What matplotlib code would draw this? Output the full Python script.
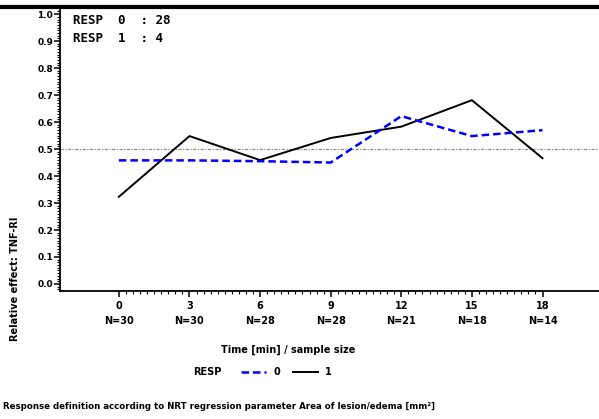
import numpy as np
import matplotlib
matplotlib.use("Agg")
import matplotlib.pyplot as plt
from matplotlib.ticker import FixedLocator, MultipleLocator
from matplotlib.lines import Line2D

# Time points (minutes) and sample sizes
times = [0, 3, 6, 9, 12, 15, 18]
sample_sizes = ["N=30", "N=30", "N=28", "N=28", "N=21", "N=18", "N=14"]

# Relative effect per response group
resp0 = [0.458, 0.458, 0.455, 0.450, 0.622, 0.548, 0.570]
resp1 = [0.323, 0.548, 0.459, 0.541, 0.583, 0.681, 0.466]

group_counts = {"0": 28, "1": 4}
reference_level = 0.5

plt.rcParams["font.family"] = ["DejaVu Sans"]
plt.rcParams["font.weight"] = "bold"

fig = plt.figure(figsize=(5.99, 4.19), dpi=100)
ax = fig.add_axes([0.1002, 0.3055, 0.8998, 0.6705])

ax.axhline(reference_level, color="#888888", lw=0.9, ls=(0, (2.5, 1.2, 1, 1.2)), zorder=1)
l0, = ax.plot(times, resp0, color="#0000ff", lw=1.8, ls=(0, (3, 1.6)), zorder=3)
l1, = ax.plot(times, resp1, color="black", lw=1.4, zorder=2)

ax.set_xlim(-2.5, 20.4)
ax.set_ylim(-0.026, 1.015)

for side in ("top", "right"):
    ax.spines[side].set_visible(False)
for side in ("left", "bottom"):
    ax.spines[side].set_linewidth(1.3)

ax.set_yticks(np.round(np.arange(0, 1.01, 0.1), 1))
ax.set_yticklabels([f"{v:.1f}" for v in np.arange(0, 1.01, 0.1)], fontsize=6.5, fontweight="bold")
ax.yaxis.set_minor_locator(MultipleLocator(0.01))
ax.tick_params(axis="y", which="major", length=4, width=1.1, pad=1)
ax.tick_params(axis="y", which="minor", length=2, width=0.8)

ax.set_xticks(times)
ax.set_xticklabels([f"{t}\n{n}" for t, n in zip(times, sample_sizes)],
                   fontsize=7, fontweight="bold", linespacing=1.65)
ax.xaxis.set_minor_locator(FixedLocator(np.arange(0, 18.01, 0.3)))
ax.tick_params(axis="x", which="major", length=4, width=1.1, pad=3)
ax.tick_params(axis="x", which="minor", length=2, width=0.8)

ax.set_xlabel("Time [min] / sample size", fontsize=7, fontweight="bold")
ax.xaxis.set_label_coords(0.423, -0.19)
ax.set_ylabel("Relative effect: TNF-RI", fontsize=7, fontweight="bold")
ax.yaxis.set_label_coords(-0.075, 0.045)

ax.text(0.024, 0.985,
        f"RESP  0  : {group_counts['0']}\nRESP  1  : {group_counts['1']}",
        transform=ax.transAxes, va="top", ha="left", fontsize=9, fontweight="bold",
        family="DejaVu Sans Mono", linespacing=1.45)

# Thick rule along the top edge
fig.add_artist(Line2D([0, 1], [0.983, 0.983], transform=fig.transFigure, color="black", lw=3))

# Legend row
fig.text(0.323, 0.112, "RESP", fontsize=7, fontweight="bold", ha="left", va="center")
fig.legend([l0, l1], ["0", "1"], loc="center", bbox_to_anchor=(0.478, 0.112), ncol=2,
           frameon=False, fontsize=7, handlelength=2.6, columnspacing=1.3, handletextpad=0.7)

fig.text(0.005, 0.03,
         "Response definition according to NRT regression parameter Area of lesion/edema [mm²]",
         fontsize=6.2, fontweight="bold", ha="left", va="center")

fig.savefig("out.png", dpi=100)
